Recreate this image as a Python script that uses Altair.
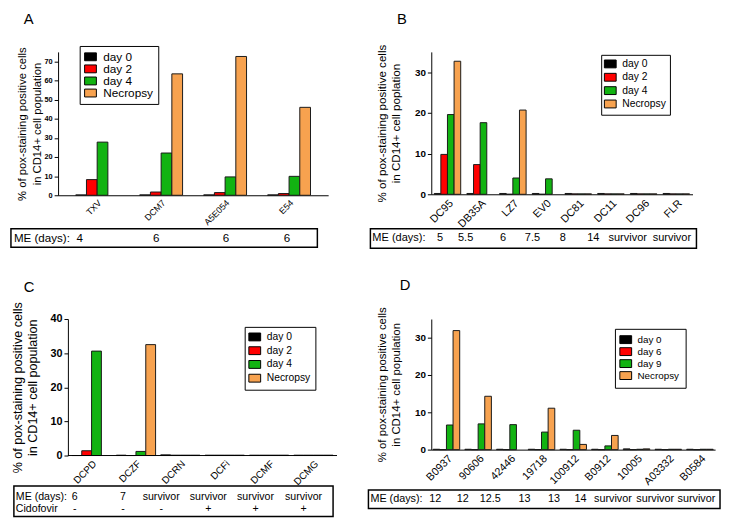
import altair as alt
import pandas as pd

FONT = "Liberation Sans"
COLORS = ["#000000", "#ff0000", "#12b312", "#f7a24f"]
RECT_SYMBOL = "M-1.5,-1L1.5,-1L1.5,1L-1.5,1Z"

# ---------------- data ----------------
series_abc = ["day 0", "day 2", "day 4", "Necropsy"]
series_d = ["day 0", "day 6", "day 9", "Necropsy"]

# Panel A
a_cats = ["TXV", "DCM7", "A5E054", "E54"]
a_day0 = [0.2, 0.2, 0.2, 0.2]
a_day2 = [8.2, 1.7, 1.4, 0.9]
a_day4 = [27.8, 22.1, 9.6, 9.9]
a_necropsy = [None, 63.5, 72.6, 46.0]
a_me = ["4", "6", "6", "6"]

# Panel B
b_cats = ["DC95", "DB35A", "LZ7", "EV0", "DC81", "DC11", "DC96", "FLR"]
b_day0 = [0.2, 0.2, 0.2, 0.2, 0.2, 0.2, 0.2, 0.2]
b_day2 = [9.8, 7.3, 0.0, 0.0, 0.1, 0.1, 0.1, 0.1]
b_day4 = [19.6, 17.6, 4.0, 3.8, 0.1, 0.1, 0.1, 0.1]
b_necropsy = [32.7, None, 20.7, None, 0.1, 0.1, 0.1, 0.1]
b_me = ["5", "5.5", "6", "7.5", "8", "14", "survivor", "survivor"]

# Panel C
c_cats = ["DCPD", "DCZF", "DCRN", "DCFi", "DCMF", "DCMG"]
c_day0 = [0.0, 0.1, 0.2, 0.1, 0.1, 0.1]
c_day2 = [1.4, 0.0, 0.1, 0.1, 0.1, 0.1]
c_day4 = [30.6, 1.2, 0.1, 0.1, 0.1, 0.1]
c_necropsy = [None, 32.5, 0.1, 0.1, 0.1, 0.1]
c_me = ["6", "7", "survivor", "survivor", "survivor", "survivor"]
c_cidofovir = ["-", "-", "-", "+", "+", "+"]

# Panel D
d_cats = ["B0937", "90606", "42446", "19718", "100912", "B0912", "10005", "A03332", "B0584"]
d_day0 = [0.1, 0.1, 0.1, 0.1, 0.1, 0.1, 0.2, 0.1, 0.1]
d_day6 = [0.0, 0.0, 0.0, 0.0, 0.0, 0.0, 0.0, 0.0, 0.0]
d_day9 = [6.6, 6.9, 6.7, 4.7, 5.2, 1.0, 0.1, 0.1, 0.1]
d_necropsy = [31.9, 14.3, None, 11.1, 1.4, 3.8, 0.2, 0.1, 0.1]
d_me = ["12", "12", "12.5", "13", "13", "14", "survivor", "survivor", "survivor"]

YTITLE = ["% of pox-staining positive cells", "in CD14+ cell population"]
YTITLE_B = ["% of pox-staining positive cells", "in CD14+ cell poplation"]


def long_df(cats, series, cols):
    rows = []
    for s, vals in zip(series, cols):
        for c, v in zip(cats, vals):
            rows.append({"cat": c, "series": s, "value": v})
    return pd.DataFrame(rows)


ONE = pd.DataFrame({"k": [0]})


def panel(letter, cats, series, cols, me_rows, g):
    df = long_df(cats, series, cols)
    W, H = g["w"], g["h"]
    own_baseline = g.get("axoff", 0) != 0
    xscale = alt.Scale(domain=cats, paddingInner=g["pi"], paddingOuter=g["po"],
                       align=g.get("align", 0.5))
    bars = alt.Chart(df).mark_bar(stroke="#1a1a1a", strokeWidth=1).encode(
        x=alt.X("cat:N", sort=cats, title=None, scale=xscale,
                axis=alt.Axis(labelAngle=-45, labelFontSize=g["xl"], ticks=False,
                              domain=not own_baseline,
                              domainColor="black", labelColor="black", labelPadding=3,
                              labelFont=FONT, grid=False)),
        xOffset=alt.XOffset("series:N", sort=series,
                            scale=alt.Scale(domain=series, paddingInner=0, paddingOuter=0)),
        y=alt.Y("value:Q", scale=alt.Scale(domain=[0, g["ymax"]], nice=False),
                axis=alt.Axis(values=g["ticks"], title=g["ytitle"], titleFontSize=g["tf"],
                              titleFontWeight="normal", titleX=g["tx"], titleY=H / 2,
                              titleLineHeight=15, titleColor="black", titleFont=FONT,
                              labelFontSize=g["yl"], labelFontWeight="bold", labelColor="black",
                              labelFont=FONT, tickSize=4, tickColor="black",
                              domainColor="black", grid=False, labelPadding=2,
                              labelOverlap=False, offset=g.get("axoff", 0))),
        color=alt.Color("series:N", sort=series,
                        scale=alt.Scale(domain=series, range=COLORS),
                        legend=alt.Legend(title=None, orient="none", legendX=g["lx"],
                                          legendY=g["ly"], strokeColor="black",
                                          fillColor="white", padding=g["lp"],
                                          symbolType=RECT_SYMBOL, symbolSize=64,
                                          symbolStrokeColor="black", symbolStrokeWidth=1,
                                          labelFontSize=g["lf"], labelFont=FONT,
                                          labelColor="black", labelOffset=7,
                                          rowPadding=g["lr"])),
    )
    layers = [bars]
    if own_baseline:
        # x-axis base line starting at the (shifted) y axis
        layers.append(alt.Chart(ONE).mark_rule(color="black", strokeWidth=1).encode(
            x=alt.value(-g["axoff"]), x2=alt.value(W), y=alt.value(H)))
    box = alt.Chart(ONE).mark_rect(fill="white", stroke="black", strokeWidth=1.5).encode(
        x=alt.value(g["bx"][0]), x2=alt.value(g["bx"][1]),
        y=alt.value(g["by"][0]), y2=alt.value(g["by"][1]))
    layers.append(box)
    for (row_title, row_vals), ry in zip(me_rows, g["ry"]):
        layers.append(alt.Chart(ONE).mark_text(
            align="left", baseline="middle", fontSize=g["mf"], font=FONT, color="black"
        ).encode(x=alt.value(g["lbx"]), y=alt.value(ry), text=alt.value(row_title)))
        n = len(row_vals)
        mdf = pd.DataFrame({"slot": list(range(n)), "label": row_vals})
        layers.append(alt.Chart(mdf).mark_text(
            baseline="middle", fontSize=g["mf"], font=FONT, color="black"
        ).encode(
            x=alt.X("slot:Q", scale=alt.Scale(domain=list(range(n)), range=g["mx"],
                                              nice=False, zero=False), axis=None),
            y=alt.value(ry), text="label:N"))
    layers.append(alt.Chart(ONE).mark_text(
        align="left", baseline="alphabetic", fontSize=15, font=FONT, color="black"
    ).encode(x=alt.value(g["let"][0]), y=alt.value(g["let"][1]), text=alt.value(letter)))
    return alt.layer(*layers).resolve_scale(x="independent").properties(width=W, height=H)


geo_a = dict(w=275, h=146, pi=0.33, po=0.276, ymax=75, ticks=[0, 10, 20, 30, 40, 50, 60, 70],
             ytitle=YTITLE, tf=11.5, tx=-31, yl=7.5, xl=9, lx=22, ly=-6, lp=5, lf=12, lr=0.3,
             bx=(-48, 264), by=(180, 199), lbx=-45, ry=[189.5], mf=11.8,
             mx=[22, 100, 171, 233], let=(-35, -28))
geo_b = dict(w=266, h=145, pi=0.19, po=0.09, ymax=35, ticks=[0, 10, 20, 30],
             ytitle=YTITLE_B, tf=11.8, tx=-45, yl=10, xl=11, lx=173, ly=3, lp=4, lf=10.5, lr=0.6,
             bx=(-62, 270), by=(180, 200), lbx=-60, ry=[190], mf=11.2,
             mx=[9, 35, 73, 103, 134, 165, 200, 245], let=(-35, -28))
geo_c = dict(w=284, h=139, pi=0.115, po=0.2, align=0.78, axoff=-10, ymax=40,
             ticks=[0, 10, 20, 30, 40],
             ytitle=YTITLE, tf=12.8, tx=-44, yl=11, xl=10, lx=190, ly=8, lp=5, lf=10.5, lr=1.0,
             bx=(-45, 280), by=(170, 201), lbx=-43, ry=[181, 193], mf=10.8,
             mx=[17, 66, 105, 153, 201, 250], let=(-35, -28))
geo_d = dict(w=289, h=133, pi=0.163, po=0.06, ymax=35, ticks=[0, 10, 20, 30],
             ytitle=YTITLE, tf=11.6, tx=-45, yl=10, xl=11, lx=187, ly=10, lp=6, lf=10, lr=0.2,
             bx=(-64, 294), by=(174, 193), lbx=-62, ry=[183.5], mf=11,
             mx=[4, 32, 60, 95, 125, 152, 185, 228, 270], let=(-32, -30))

pa = panel("A", a_cats, series_abc, [a_day0, a_day2, a_day4, a_necropsy],
           [("ME (days):", a_me)], geo_a)
pb = panel("B", b_cats, series_abc, [b_day0, b_day2, b_day4, b_necropsy],
           [("ME (days):", b_me)], geo_b)
pc = panel("C", c_cats, series_abc, [c_day0, c_day2, c_day4, c_necropsy],
           [("ME (days):", c_me), ("Cidofovir", c_cidofovir)], geo_c)
pdd = panel("D", d_cats, series_d, [d_day0, d_day6, d_day9, d_necropsy],
            [("ME (days):", d_me)], geo_d)

chart = alt.concat(
    pa, pb, pc, pdd, columns=2, spacing={"row": 126, "column": 91},
    bounds="flush", align="all"
).resolve_scale(
    color="independent", xOffset="independent"
).resolve_legend(color="independent").properties(
    padding={"left": 2, "top": 0, "right": 0, "bottom": 0}
).configure(font=FONT).configure_view(stroke=None)

chart.save("out.html", embed_options={"renderer": "svg", "actions": False})
